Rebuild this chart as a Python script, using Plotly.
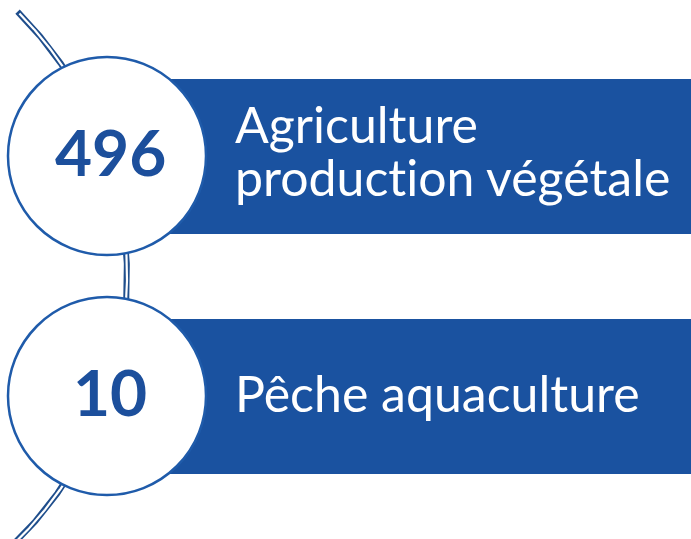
import numpy as np
import plotly.graph_objects as go

# Data
values = [496, 10]
labels = ["Agriculture<br>production végétale", "Pêche aquaculture"]

W, H = 691, 539
BAND = "#1A52A0"
RING = "#1F5BAA"
TUBE = "#1F4E8C"
NUM = "#1C4F9C"

cx0, cy0, step, R = 107, 156, 240, 99
band_half = 78
LINE_GAP = 53
BASE_SIZE = LINE_GAP / 1.3  # plotly line spacing is 1.3em of the annotation font
TEXT_SIZE = 50

fig = go.Figure()

# background track (big arc) drawn as double line
bcx, bcy, br = -247, 276, 374
t = np.linspace(-0.785, 0.85, 400)
ax = bcx + br * np.cos(t)
ay = bcy + br * np.sin(t)
t2 = np.linspace(-0.778, 0.85, 400)
fig.add_trace(go.Scatter(x=ax, y=ay, mode="lines", line=dict(color=TUBE, width=6),
                         hoverinfo="skip", showlegend=False))
fig.add_trace(go.Scatter(x=bcx + br * np.cos(t2), y=bcy + br * np.sin(t2), mode="lines",
                         line=dict(color="white", width=2.2),
                         hoverinfo="skip", showlegend=False))

shapes = []
annotations = []
for i, (v, lab) in enumerate(zip(values, labels)):
    cy = cy0 + i * step
    shapes.append(dict(type="rect", x0=170, x1=W + 5, y0=cy - band_half + 1, y1=cy + band_half,
                       fillcolor=BAND, line=dict(width=0), layer="above"))
for i, (v, lab) in enumerate(zip(values, labels)):
    cy = cy0 + i * step
    shapes.append(dict(type="circle", x0=cx0 - R, x1=cx0 + R, y0=cy - R, y1=cy + R,
                       fillcolor="white", line=dict(color=RING, width=2.5), layer="above"))
    annotations.append(dict(x=cx0 + 3, y=cy - 5, text=f"<b>{v}</b>", showarrow=False,
                            font=dict(family="Lato", size=64, color=NUM),
                            xanchor="center", yanchor="middle"))
    lines = lab.split("<br>")
    n = len(lines)
    txt = "<br>".join(f'<span style="font-size:{TEXT_SIZE}px">{ln.replace("ti", "t\u200ci")}</span>'
                      for ln in lines)
    annotations.append(dict(x=233, y=cy - 6 + (3 if n == 1 else 0), text=txt, showarrow=False,
                            font=dict(family="Lato", size=BASE_SIZE, color="white"),
                            xanchor="left", yanchor="middle", align="left"))

fig.update_layout(
    width=W, height=H, margin=dict(l=0, r=0, t=0, b=0),
    paper_bgcolor="white", plot_bgcolor="white",
    xaxis=dict(range=[0, W], visible=False, fixedrange=True),
    yaxis=dict(range=[H, 0], visible=False, fixedrange=True),
    shapes=shapes, annotations=annotations, showlegend=False,
)
fig.write_html("out.html", config={"displayModeBar": False},
               post_script="document.body.style.margin='0';")
